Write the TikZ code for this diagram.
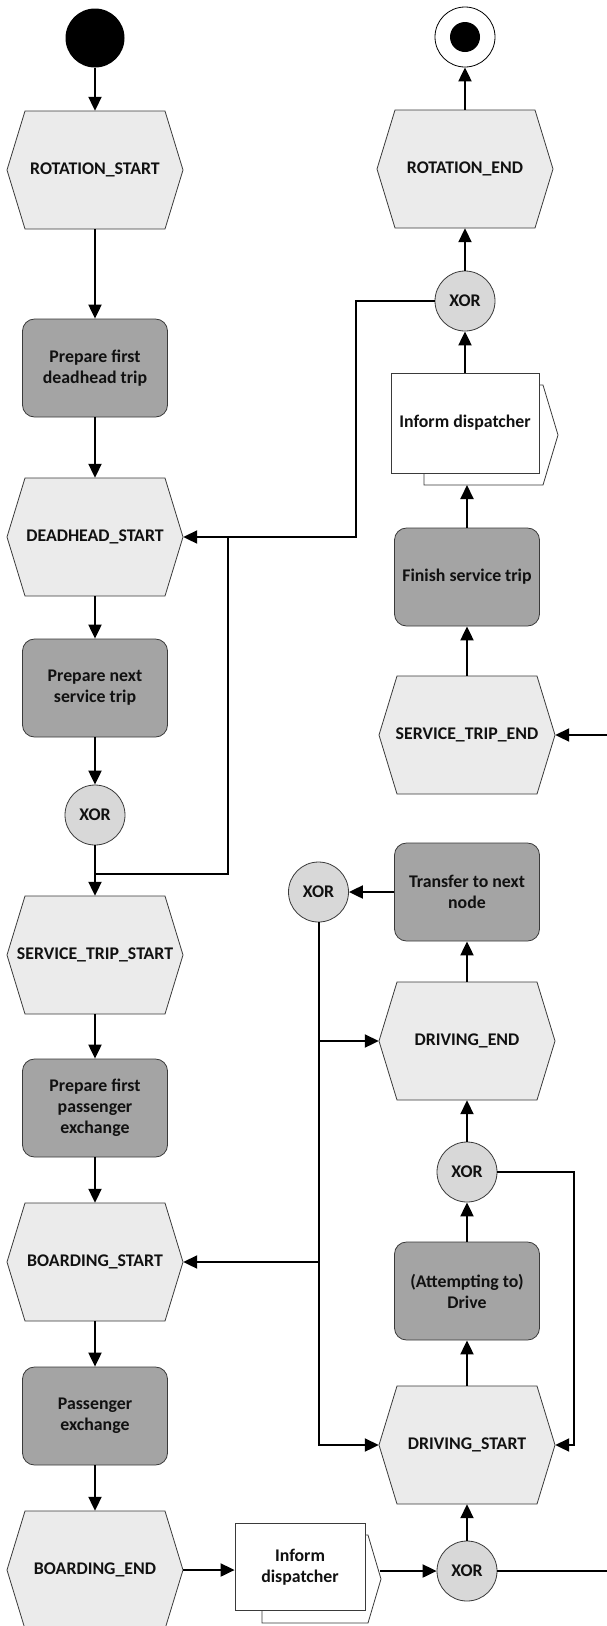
\documentclass[tikz,border=0pt]{standalone}
\usepackage{fontspec}
\setmainfont{Carlito}
\usetikzlibrary{arrows.meta,calc}
\definecolor{bordc}{HTML}{3A3A3A}
\definecolor{funcc}{HTML}{A4A4A4}
\definecolor{evtc}{HTML}{EBEBEB}
\definecolor{xorc}{HTML}{D8D8D8}
\definecolor{txtc}{HTML}{111111}
\newcommand\myevt[4]{%
  \filldraw[evtshape] (#2-88,#3) -- (#2-70,#3-59) -- (#2+70,#3-59) -- (#2+88,#3) -- (#2+70,#3+59) -- (#2-70,#3+59) -- cycle;
  \node[evtnode] (#1) at (#2,#3) {#4};}
\begin{document}
\begin{tikzpicture}[x=1pt,y=-1pt,
  lbl/.style={font=\bfseries\fontsize{17.8}{21}\selectfont, text=txtc, align=center},
  func/.style={lbl, draw=bordc, fill=funcc, rounded corners=12pt, minimum width=145pt, minimum height=98pt, line width=0.8pt, inner sep=2pt},
  xorn/.style={lbl, circle, draw=bordc, fill=xorc, minimum size=60pt, inner sep=0pt, line width=0.8pt},
  evtnode/.style={lbl, minimum width=176pt, minimum height=118pt, inner sep=0pt},
  evtshape/.style={draw=bordc, fill=evtc, line width=0.8pt},
  infn/.style={lbl, draw=bordc, fill=white, line width=0.8pt, inner sep=2pt},
  infback/.style={draw=bordc, fill=white, line width=0.8pt},
  arr/.style={line width=2pt, -{Triangle[length=14pt,width=13pt]}},
  ln/.style={line width=2pt}]
\useasboundingbox (0,0) rectangle (607,1626);
\fill[white] (0,0) rectangle (607,1626);

% ---------- left column ----------
\node[circle, fill=black, minimum size=59pt, inner sep=0pt] (start) at (95,38) {};
\myevt{rs}{95}{170}{ROTATION\_START}
\node[func] (pfd) at (95,368) {Prepare first\\deadhead trip};
\myevt{ds}{95}{537}{DEADHEAD\_START}
\node[func] (pns) at (95,688) {Prepare next\\service trip};
\node[xorn] (x1) at (95,815) {XOR};
\myevt{sts}{95}{955}{SERVICE\_TRIP\_START}
\node[func] (pfp) at (95,1108) {Prepare first\\passenger\\exchange};
\myevt{bs}{95}{1262}{BOARDING\_START}
\node[func] (pe) at (95,1416) {Passenger\\exchange};
\myevt{be}{95}{1570}{BOARDING\_END}

% ---------- right column ----------
\node[circle, draw=black, fill=white, line width=0.8pt, minimum size=60pt, inner sep=0pt] (endo) at (465,37) {};
\node[circle, fill=black, minimum size=30pt, inner sep=0pt] (endi) at (465,37) {};
\myevt{re}{465}{169}{ROTATION\_END}
\node[xorn] (x2) at (465,301) {XOR};
\filldraw[infback] (424,385) -- (543,385) -- (558,435) -- (543,485) -- (424,485) -- cycle;
\node[infn, minimum width=148pt, minimum height=100pt] (inf1) at (465,423) {Inform dispatcher};
\coordinate (inf1b) at (465,485);
\node[func] (fst) at (467,577) {Finish service trip};
\myevt{ste}{467}{735}{SERVICE\_TRIP\_END}
\node[func] (tnn) at (467,892) {Transfer to next\\node};
\node[xorn] (x3) at (318.5,892) {XOR};
\myevt{de}{467}{1041}{DRIVING\_END}
\node[xorn] (x4) at (467,1172) {XOR};
\node[func] (drv) at (467,1291) {(Attempting to)\\Drive};
\myevt{dst}{467}{1445}{DRIVING\_START}

% bottom inform dispatcher
\filldraw[infback] (262,1535) -- (368,1535) -- (381,1579) -- (368,1623) -- (262,1623) -- cycle;
\node[infn, minimum width=130pt, minimum height=87pt] (inf2) at (300,1567) {Inform\\dispatcher};
\coordinate (inf2t) at (380,1571);
\node[xorn] (x5) at (467,1571) {XOR};

% ---------- helper coordinates ----------
\coordinate (j1) at (95,874);
\coordinate (j2) at (228,874);
\coordinate (j3) at (228,537);
\coordinate (j4) at (356,537);
\coordinate (j5) at (356,301);
\coordinate (k1) at (318.5,1041);
\coordinate (k2) at (318.5,1262);
\coordinate (k3) at (318.5,1445);
\coordinate (m1) at (574,1172);
\coordinate (m2) at (574,1445);
\coordinate (re1) at (612,1571);
\coordinate (re2) at (612,735);

% ---------- connectors ----------
\draw[arr] (start) -- (rs);
\draw[arr] (rs) -- (pfd);
\draw[arr] (pfd) -- (ds);
\draw[arr] (ds) -- (pns);
\draw[arr] (pns) -- (x1);
\draw[arr] (x1) -- (sts);
\draw[ln] (j1) -- (j2) -- (j3);
\draw[arr] (x2.west) -- (j5) -- (j4) -- (ds.east);
\draw[arr] (sts) -- (pfp);
\draw[arr] (pfp) -- (bs);
\draw[arr] (bs) -- (pe);
\draw[arr] (pe) -- (be);
\draw[arr] (be.east) -- (be.east -| inf2.west);
\draw[arr] (inf2t) -- (x5.west);
\draw[arr] (x5) -- (dst);
\draw[ln] (x5.east) -- (re1);
\draw[arr] (re2) -- (ste.east);
\draw[arr] (ste) -- (fst);
\draw[arr] (fst.north) -- (fst.north |- inf1b);
\draw[arr] (inf1) -- (x2);
\draw[arr] (x2) -- (re);
\draw[arr] (re) -- (endo);
\draw[arr] (dst) -- (drv);
\draw[arr] (drv) -- (x4);
\draw[arr] (x4) -- (de);
\draw[arr] (de) -- (tnn);
\draw[arr] (tnn) -- (x3);
\draw[arr] (x3.south) -- (k3) -- (dst.west);
\draw[arr] (k1) -- (de.west);
\draw[arr] (k2) -- (bs.east);
\draw[arr] (x4.east) -- (m1) -- (m2) -- (dst.east);
\end{tikzpicture}
\end{document}
